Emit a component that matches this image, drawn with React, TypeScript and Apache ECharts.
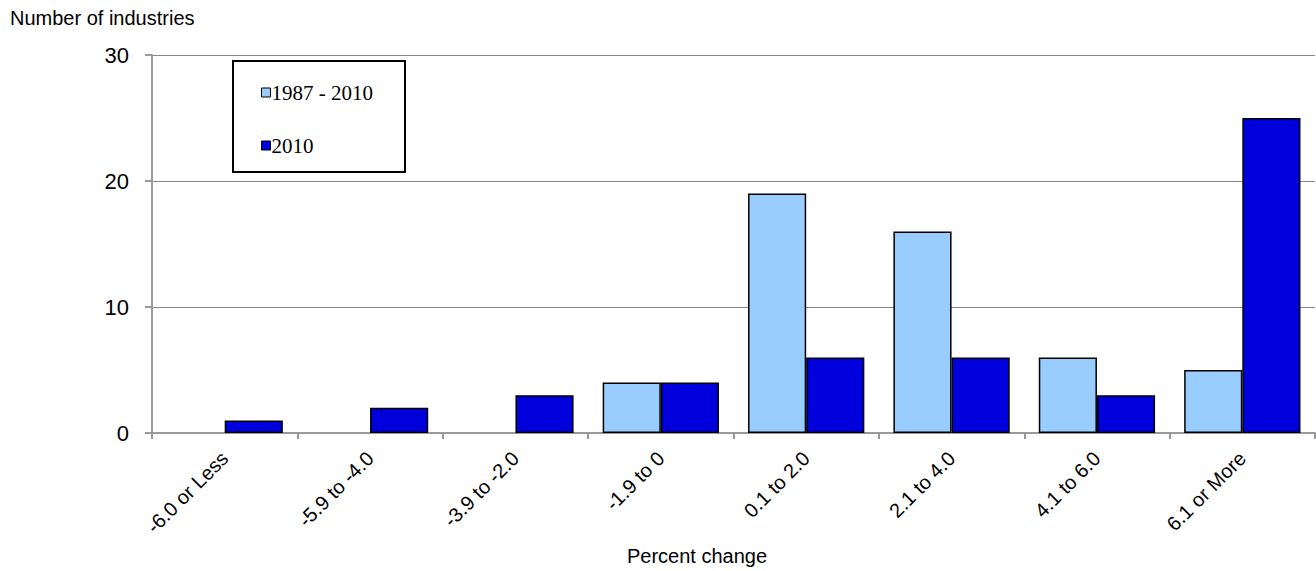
import React, { useEffect, useRef } from "react";
import * as echarts from "echarts";

const categories = ["-6.0 or Less", "-5.9 to -4.0", "-3.9 to -2.0", "-1.9 to 0", "0.1 to 2.0", "2.1 to 4.0", "4.1 to 6.0", "6.1 or More"];
const series1987 = [0, 0, 0, 4, 19, 16, 6, 5];
const series2010 = [1, 2, 3, 4, 6, 6, 3, 25];
const yTicks = [0, 10, 20, 30];

const noZero = (arr: number[]) => arr.map((v) => (v === 0 ? null : v));

export default function App() {
  const ref = useRef<HTMLDivElement>(null);
  useEffect(() => {
    if (!ref.current) return;
    const chart = echarts.init(ref.current, null, { renderer: "svg" });
    chart.setOption({
      animation: false,
      backgroundColor: "#fff",
      grid: { left: 152, top: 55, right: 1, bottom: 138, containLabel: false, outerBoundsMode: "none" },
      graphic: [
        { type: "text", left: 10, top: 8, style: { text: "Number of industries", font: "20px Arial, 'Liberation Sans'", fill: "#000" } },
        { type: "text", left: 627, top: 546, style: { text: "Percent change", font: "20px Arial, 'Liberation Sans'", fill: "#000" } },
        { type: "rect", shape: { x: 233, y: 61, width: 172, height: 111 }, style: { fill: "#fff", stroke: "#000", lineWidth: 2 }, z: 10 },
      ],
      legend: {
        orient: "vertical",
        left: 256,
        top: 77,
        itemGap: 32,
        itemWidth: 9,
        itemHeight: 9,
        z: 20,
        icon: "rect",
        textStyle: { fontFamily: "'Liberation Serif', 'Times New Roman', serif", fontSize: 21, color: "#000", padding: [0, 0, 0, -4] },
        data: [
          { name: "1987 - 2010", itemStyle: { color: "#99ccff", borderColor: "#000", borderWidth: 1 } },
          { name: "2010", itemStyle: { color: "#0000dd", borderColor: "#000", borderWidth: 1 } },
        ],
      },
      xAxis: {
        type: "category",
        data: categories,
        axisLine: { lineStyle: { color: "#999", width: 2 } },
        axisTick: { show: true, length: 6, lineStyle: { color: "#999", width: 2 } },
        axisLabel: { rotate: 45, margin: 22, fontFamily: "Arial, 'Liberation Sans'", fontSize: 20, color: "#000" },
      },
      yAxis: {
        type: "value",
        min: 0,
        max: 30,
        interval: 10,
        axisLine: { show: true, lineStyle: { color: "#999", width: 2 } },
        axisTick: { show: true, inside: false, length: 7, lineStyle: { color: "#999", width: 2 } },
        axisLabel: { margin: 23, fontFamily: "Arial, 'Liberation Sans'", fontSize: 22, color: "#000", formatter: (v: number) => (yTicks.includes(v) ? String(v) : "") },
        splitLine: { show: true, lineStyle: { color: "#888", width: 1 } },
      },
      series: [
        {
          name: "1987 - 2010",
          type: "bar",
          data: noZero(series1987),
          barWidth: "40%",
          barGap: "0%",
          itemStyle: { color: "#99ccff", borderColor: "#000", borderWidth: 1.5 },
        },
        {
          name: "2010",
          type: "bar",
          data: noZero(series2010),
          barWidth: "40%",
          barGap: "0%",
          itemStyle: { color: "#0000dd", borderColor: "#000", borderWidth: 1.5 },
        },
      ],
    });
    return () => chart.dispose();
  }, []);
  return <div ref={ref} style={{ position: "fixed", left: 0, top: 0, width: 1316, height: 571 }} />;
}
